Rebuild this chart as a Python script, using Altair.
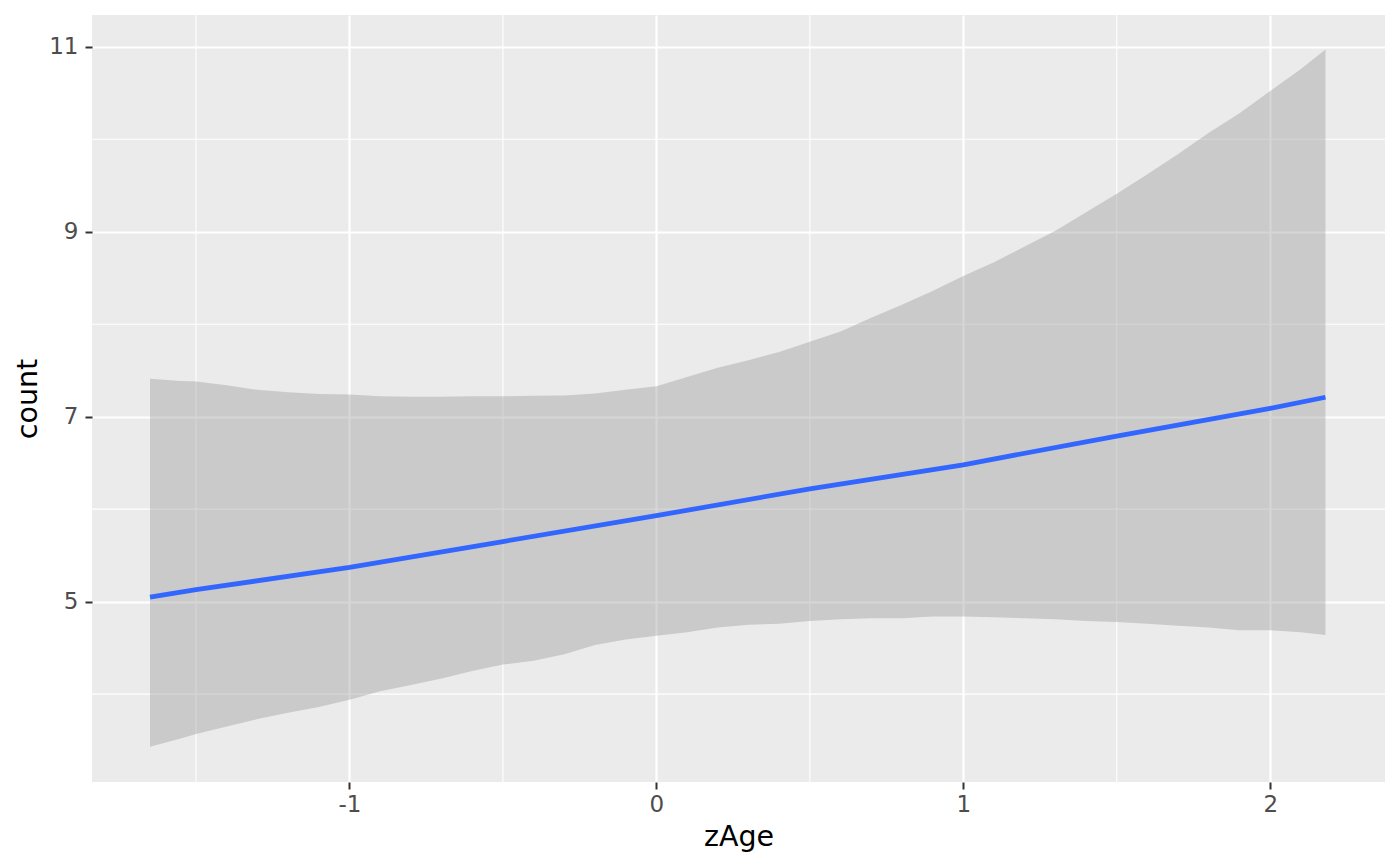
import altair as alt
import pandas as pd

# Confidence band
band_x = [-1.65, -1.55, -1.5, -1.4, -1.3, -1.2, -1.1, -1.0, -0.9, -0.8, -0.7, -0.6,
          -0.5, -0.4, -0.3, -0.2, -0.1, 0.0, 0.1, 0.2, 0.3, 0.4, 0.5, 0.6, 0.7, 0.8,
          0.9, 1.0, 1.1, 1.2, 1.3, 1.4, 1.5, 1.6, 1.7, 1.8, 1.9, 2.0, 2.1, 2.18]
band_upper = [7.41, 7.385, 7.38, 7.34, 7.29, 7.265, 7.245, 7.24, 7.22, 7.215, 7.215, 7.22,
              7.22, 7.225, 7.23, 7.25, 7.29, 7.33, 7.43, 7.53, 7.61, 7.70, 7.81, 7.92,
              8.07, 8.21, 8.36, 8.52, 8.67, 8.84, 9.01, 9.21, 9.41, 9.62, 9.84, 10.07,
              10.28, 10.52, 10.76, 10.97]
band_lower = [3.43, 3.52, 3.57, 3.65, 3.73, 3.80, 3.86, 3.94, 4.03, 4.10, 4.17, 4.25,
              4.32, 4.36, 4.43, 4.53, 4.59, 4.63, 4.67, 4.72, 4.75, 4.76, 4.79, 4.81,
              4.82, 4.82, 4.84, 4.84, 4.83, 4.82, 4.81, 4.79, 4.78, 4.76, 4.74, 4.72,
              4.69, 4.69, 4.67, 4.64]

# Fitted line
line_x = [-1.65, -1.5, -1.0, -0.5, 0.0, 0.5, 1.0, 1.5, 2.0, 2.18]
line_y = [5.05, 5.13, 5.37, 5.65, 5.93, 6.22, 6.48, 6.79, 7.09, 7.21]

x_ticks = [-1, 0, 1, 2]
y_ticks = [5, 7, 9, 11]
x_minor = [-1.5, -0.5, 0.5, 1.5]
y_minor = [4, 6, 8, 10]

band_df = pd.DataFrame({"zAge": band_x, "lo": band_lower, "hi": band_upper})
line_df = pd.DataFrame({"zAge": line_x, "count": line_y})
xminor_df = pd.DataFrame({"v": x_minor})
yminor_df = pd.DataFrame({"v": y_minor})

xscale = alt.Scale(domain=[-1.839, 2.374], nice=False, zero=False)
yscale = alt.Scale(domain=[3.050, 11.343], nice=False, zero=False)

FONT = "DejaVu Sans"
LABEL_EXPR = "datum.value < 0 ? '-' + abs(datum.value) : '' + datum.value"

xaxis = alt.Axis(values=x_ticks, grid=True, gridColor="white", gridWidth=2.2,
                 domain=False, tickColor="#333333", tickWidth=2, tickSize=7,
                 labelFont=FONT, labelFontSize=23, labelColor="#4D4D4D", labelPadding=4,
                 labelExpr=LABEL_EXPR,
                 title="zAge", titleFont=FONT, titleFontSize=28.5, titleFontWeight="normal",
                 titleColor="black", titlePadding=6)
yaxis = alt.Axis(values=y_ticks, grid=True, gridColor="white", gridWidth=2.2,
                 domain=False, tickColor="#333333", tickWidth=2, tickSize=7,
                 labelFont=FONT, labelFontSize=23, labelColor="#4D4D4D", labelPadding=7,
                 labelExpr=LABEL_EXPR,
                 title="count", titleFont=FONT, titleFontSize=28.5, titleFontWeight="normal",
                 titleColor="black", titlePadding=6)

xminor = alt.Chart(xminor_df).mark_rule(color="white", strokeWidth=1.1).encode(
    x=alt.X("v:Q", scale=xscale, axis=xaxis))
yminor = alt.Chart(yminor_df).mark_rule(color="white", strokeWidth=1.1).encode(
    y=alt.Y("v:Q", scale=yscale, axis=yaxis))

band = alt.Chart(band_df).mark_area(color="#999999", opacity=0.4).encode(
    x=alt.X("zAge:Q", scale=xscale, axis=xaxis),
    y=alt.Y("lo:Q", scale=yscale, axis=yaxis),
    y2="hi:Q",
)

line = alt.Chart(line_df).mark_line(color="#3366FF", strokeWidth=4.8).encode(
    x=alt.X("zAge:Q", scale=xscale, axis=xaxis),
    y=alt.Y("count:Q", scale=yscale, axis=yaxis),
)

chart = alt.layer(xminor, yminor, band, line).properties(
    width=1293, height=767,
    autosize=alt.AutoSizeParams(type="none"),
    padding={"left": 84, "top": 7, "right": 7, "bottom": 76},
    background="white",
).configure_view(fill="#EBEBEB", stroke=None)

chart.save("out.html", embed_options={"renderer": "svg", "actions": False})
